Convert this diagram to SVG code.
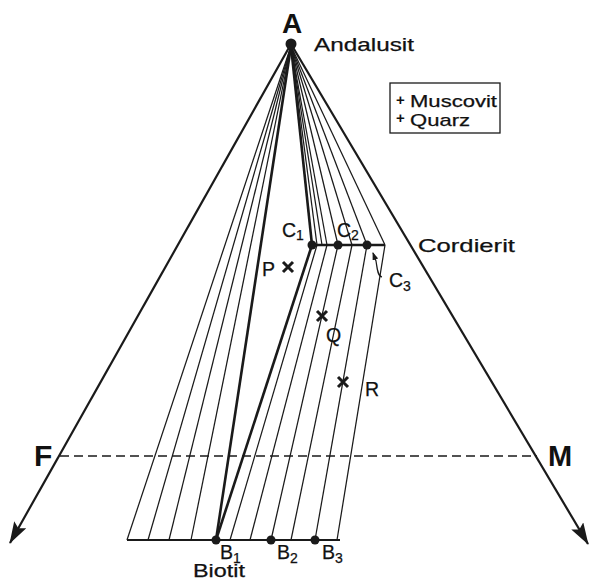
<svg xmlns="http://www.w3.org/2000/svg" width="589" height="581" viewBox="0 0 589 581">
<style>
text{font-family:"Liberation Sans",Arial,sans-serif;fill:#111;stroke:#111;stroke-width:0.25}
.side{stroke:#1a1a1a;stroke-width:2.2;fill:none}
.thin{stroke:#1a1a1a;stroke-width:1.25;fill:none}
.thick{stroke:#1a1a1a;stroke-width:2.6;fill:none}
.dash{stroke:#1a1a1a;stroke-width:1.3;stroke-dasharray:9 5;fill:none}
.dot{fill:#1a1a1a}
.x{stroke:#1a1a1a;stroke-width:3;stroke-linecap:butt}
.big{font-weight:bold;stroke-width:0}
.lbl{font-size:19.5px}
.sub{font-size:14px}
.plus{font-size:15px;font-weight:bold;stroke-width:0}
</style>
<defs>
<marker id="ah" viewBox="0 0 22 14" refX="21" refY="7" markerWidth="22" markerHeight="14" markerUnits="userSpaceOnUse" orient="auto">
<path d="M0,0 L22,7 L0,14 L4,7 z" fill="#1a1a1a"/>
</marker>
<marker id="sa" viewBox="0 0 8 6" refX="7" refY="3" markerWidth="8" markerHeight="6" markerUnits="userSpaceOnUse" orient="auto">
<path d="M0,0 L8,3 L0,6 z" fill="#1a1a1a"/>
</marker>
</defs>
<rect width="589" height="581" fill="#fff"/>
<g id="connectors">
<line class="side" x1="291" y1="44" x2="10" y2="543" marker-end="url(#ah)"/>
<line class="side" x1="291" y1="44" x2="588" y2="544" marker-end="url(#ah)"/>
<line class="dash" x1="60" y1="456" x2="537" y2="456"/>
<line class="side" x1="127" y1="540" x2="340" y2="540"/>
<line class="thick" x1="312" y1="245" x2="385" y2="245"/>
<g id="fan-left">
<line class="thin" x1="291" y1="46" x2="127" y2="540"/>
<line class="thin" x1="291" y1="46" x2="148" y2="540"/>
<line class="thin" x1="291" y1="46" x2="169" y2="540"/>
<line class="thin" x1="291" y1="46" x2="191" y2="540"/>
<line class="thick" x1="291" y1="46" x2="216" y2="540"/>
</g>
<g id="fan-right">
<line class="thick" x1="291" y1="46" x2="312" y2="245"/>
<line class="thin" x1="291" y1="46" x2="317" y2="245"/>
<line class="thin" x1="291" y1="46" x2="322" y2="245"/>
<line class="thin" x1="291" y1="46" x2="327" y2="245"/>
<line class="thin" x1="291" y1="46" x2="338" y2="245"/>
<line class="thin" x1="291" y1="46" x2="352" y2="245"/>
<line class="thin" x1="291" y1="46" x2="367" y2="245"/>
<line class="thin" x1="291" y1="46" x2="385" y2="245"/>
</g>
<g id="tie-lines">
<line class="thick" x1="216" y1="540" x2="312" y2="245"/>
<line class="thin" x1="230" y1="540" x2="317" y2="245"/>
<line class="thin" x1="250" y1="540" x2="327" y2="245"/>
<line class="thin" x1="271" y1="540" x2="338" y2="245"/>
<line class="thin" x1="291" y1="540" x2="352" y2="245"/>
<line class="thin" x1="315" y1="540" x2="367" y2="245"/>
<line class="thin" x1="337" y1="540" x2="385" y2="245"/>
</g>
<path class="thin" d="M382,277 C377,276 377,266 376,261 L373,253" marker-end="url(#sa)"/>
</g>
<g id="A">
<circle class="dot" cx="291" cy="44" r="5.5"/>
<text class="big" x="292" y="33" font-size="28" text-anchor="middle">A</text>
<text x="314" y="51" font-size="19" textLength="100" lengthAdjust="spacingAndGlyphs">Andalusit</text>
</g>
<g id="F"><text class="big" x="34" y="466" font-size="30">F</text></g>
<g id="M"><text class="big" x="548" y="466" font-size="29">M</text></g>
<g id="box">
<rect x="390" y="83" width="110" height="50" fill="none" stroke="#1a1a1a" stroke-width="1.3"/>
<text class="plus" x="396" y="105">+</text>
<text x="410" y="106.5" font-size="17" textLength="87" lengthAdjust="spacingAndGlyphs">Muscovit</text>
<text class="plus" x="396" y="123">+</text>
<text x="410" y="125.5" font-size="17" textLength="60" lengthAdjust="spacingAndGlyphs">Quarz</text>
</g>
<g id="C1"><circle class="dot" cx="312" cy="245" r="4.5"/><text class="lbl" x="282" y="237">C<tspan class="sub" dy="3">1</tspan></text></g>
<g id="C2"><circle class="dot" cx="338" cy="245" r="4.5"/><text class="lbl" x="337" y="237">C<tspan class="sub" dy="3">2</tspan></text></g>
<g id="C3"><circle class="dot" cx="367" cy="245" r="4.5"/><text class="lbl" x="389" y="287">C<tspan class="sub" dy="4">3</tspan></text></g>
<g id="Cordierit"><text x="418" y="252" font-size="19" textLength="97" lengthAdjust="spacingAndGlyphs">Cordierit</text></g>
<g id="B1"><circle class="dot" cx="216" cy="540" r="4.5"/><text class="lbl" x="220" y="559">B<tspan class="sub" dy="4">1</tspan></text></g>
<g id="B2"><circle class="dot" cx="271" cy="540" r="4.5"/><text class="lbl" x="277" y="559">B<tspan class="sub" dy="4">2</tspan></text></g>
<g id="B3"><circle class="dot" cx="315" cy="540" r="4.5"/><text class="lbl" x="322" y="559">B<tspan class="sub" dy="4">3</tspan></text></g>
<g id="Biotit"><text x="193" y="577" font-size="18" textLength="52" lengthAdjust="spacingAndGlyphs">Biotit</text></g>
<g id="P"><path class="x" d="M283,262 L293,272 M293,262 L283,272"/><text class="lbl" x="262" y="276">P</text></g>
<g id="Q"><path class="x" d="M317,311 L327,321 M327,311 L317,321"/><text class="lbl" x="326" y="342">Q</text></g>
<g id="R"><path class="x" d="M338,377 L348,387 M348,377 L338,387"/><text class="lbl" x="365" y="396">R</text></g>
</svg>
